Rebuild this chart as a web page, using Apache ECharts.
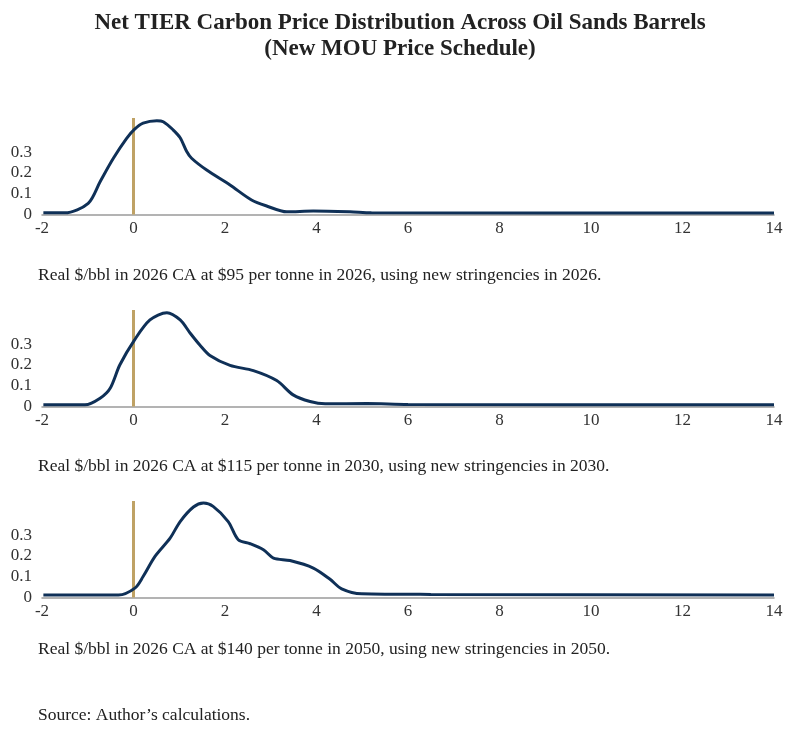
<!DOCTYPE html>
<html>
<head>
<meta charset="utf-8">
<script src="https://cdn.jsdelivr.net/npm/echarts@6/dist/echarts.min.js"></script>
<style>
  html, body { margin: 0; padding: 0; background: #fff; }
  #chart { width: 800px; height: 731px; }
</style>
</head>
<body>
<div id="chart"></div>
<script>
// x = real $/bbl, y = density
const x2026 = [-1.97, -1.5, -0.99, -0.73, -0.44, -0.15, 0.02, 0.21, 0.51, 0.65, 0.87, 1.02, 1.16, 1.27, 1.6, 2.11, 2.58, 2.91, 3.35, 3.93, 4.73, 5.2, 14];
const y2026 = [0.008, 0.008, 0.054, 0.158, 0.271, 0.367, 0.41, 0.44, 0.452, 0.447, 0.407, 0.37, 0.305, 0.271, 0.214, 0.142, 0.07, 0.041, 0.013, 0.017, 0.013, 0.008, 0.007];

const x2030 = [-1.97, -1.06, -0.73, -0.51, -0.3, 0.02, 0.36, 0.73, 1.02, 1.24, 1.45, 1.67, 2.11, 2.62, 3.13, 3.49, 3.86, 4.19, 5.1, 6.0, 14];
const y2030 = [0.008, 0.008, 0.04, 0.088, 0.2, 0.32, 0.417, 0.452, 0.417, 0.353, 0.296, 0.246, 0.198, 0.173, 0.125, 0.056, 0.024, 0.013, 0.014, 0.01, 0.008];

const x2050 = [-1.97, -0.33, 0.03, 0.21, 0.47, 0.8, 1.02, 1.31, 1.53, 1.74, 2.07, 2.29, 2.55, 2.84, 3.06, 3.42, 3.93, 4.29, 4.55, 4.99, 6.5, 14];
const y2050 = [0.012, 0.012, 0.045, 0.101, 0.198, 0.286, 0.366, 0.436, 0.455, 0.439, 0.366, 0.278, 0.259, 0.23, 0.19, 0.178, 0.142, 0.089, 0.042, 0.018, 0.015, 0.012];

const xTicks = [-2, 0, 2, 4, 6, 8, 10, 12, 14];
const yTicks = [0, 0.1, 0.2, 0.3];
const refX = 0;

const captions = [
  "Real $/bbl in 2026 CA at $95 per tonne in 2026, using new stringencies in 2026.",
  "Real $/bbl in 2026 CA at $115 per tonne in 2030, using new stringencies in 2030.",
  "Real $/bbl in 2026 CA at $140 per tonne in 2050, using new stringencies in 2050."
];

const FONT = "'Liberation Serif', 'DejaVu Serif', serif";
const NAVY = "#0f3057";
const GOLD = "#bfa265";
const YMAX = 0.465;

const panels = [
  { xs: x2026, ys: y2026, top: 118 },
  { xs: x2030, ys: y2030, top: 310 },
  { xs: x2050, ys: y2050, top: 501 }
];

const chart = echarts.init(document.getElementById("chart"));

const grids = [], xAxes = [], yAxes = [], series = [];
panels.forEach((p, i) => {
  grids.push({ left: 42, right: 26, top: p.top, height: 96.5 });
  xAxes.push({
    gridIndex: i, type: "value", min: -2, max: 14, interval: 2,
    axisLine: { lineStyle: { color: "#9a9a9a", width: 1.5 } },
    axisTick: { show: false },
    splitLine: { show: false },
    axisLabel: {
      color: "#333", fontFamily: FONT, fontSize: 17, margin: 6,
      formatter: v => xTicks.indexOf(v) >= 0 ? String(v) : ""
    }
  });
  yAxes.push({
    gridIndex: i, type: "value", min: 0, max: YMAX, interval: 0.1,
    axisLine: { show: false }, axisTick: { show: false },
    splitLine: { show: false },
    axisLabel: {
      color: "#333", fontFamily: FONT, fontSize: 17, margin: 10,
      padding: [0, 0, 5, 0],
      formatter: v => {
        const t = yTicks.find(k => Math.abs(k - v) < 1e-6);
        return t === undefined ? "" : String(t);
      }
    }
  });
  series.push({
    type: "line", xAxisIndex: i, yAxisIndex: i,
    data: [[refX, 0], [refX, YMAX]],
    symbol: "none", silent: true,
    lineStyle: { color: GOLD, width: 3 }, z: 1
  });
  series.push({
    type: "line", xAxisIndex: i, yAxisIndex: i,
    data: p.xs.map((x, k) => [x, p.ys[k]]),
    smooth: 0.3, symbol: "none",
    lineStyle: { color: NAVY, width: 3 }, z: 3
  });
});

const titles = [
  { text: "Net TIER Carbon Price Distribution Across Oil Sands Barrels", left: "center", top: 7,
    textStyle: { fontFamily: FONT, fontSize: 23, fontWeight: "bold", color: "#222" } },
  { text: "(New MOU Price Schedule)", left: "center", top: 33,
    textStyle: { fontFamily: FONT, fontSize: 23, fontWeight: "bold", color: "#222" } }
];
const capTops = [261, 452, 635];
captions.forEach((c, i) => {
  titles.push({ text: c, left: 33, top: capTops[i],
    textStyle: { fontFamily: FONT, fontSize: 17.5, fontWeight: "normal", color: "#222" } });
});
titles.push({ text: "Source: Author\u2019s calculations.", left: 33, top: 701,
  textStyle: { fontFamily: FONT, fontSize: 17.5, fontWeight: "normal", color: "#222" } });

chart.setOption({
  backgroundColor: "#fff",
  animation: false,
  title: titles,
  grid: grids,
  xAxis: xAxes,
  yAxis: yAxes,
  series: series
});
</script>
</body>
</html>
